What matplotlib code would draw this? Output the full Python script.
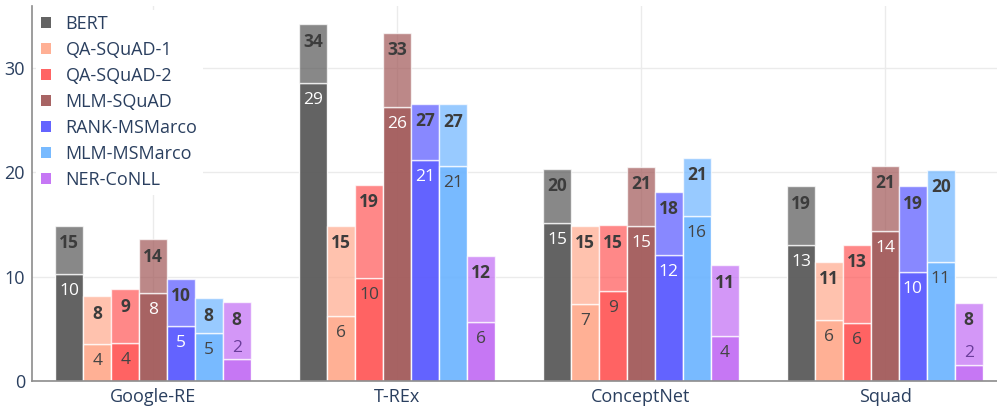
import matplotlib
matplotlib.use("Agg")
import matplotlib.pyplot as plt
from matplotlib.patches import Patch
import numpy as np

plt.rcParams['font.family'] = ['Open Sans', 'DejaVu Sans']

categories = ['Google-RE', 'T-REx', 'ConceptNet', 'Squad']
series = ['BERT', 'QA-SQuAD-1', 'QA-SQuAD-2', 'MLM-SQuAD', 'RANK-MSMarco', 'MLM-MSMarco', 'NER-CoNLL']

bert_total = [14.86, 34.19, 20.33, 18.67]
bert_lower = [10.23, 28.6, 15.12, 13.07]
qa1_total = [8.12, 14.89, 14.86, 11.41]
qa1_lower = [3.52, 6.26, 7.35, 5.82]
qa2_total = [8.79, 18.79, 14.93, 13.07]
qa2_lower = [3.61, 9.9, 8.6, 5.53]
mlm_squad_total = [13.58, 33.4, 20.52, 20.65]
mlm_squad_lower = [8.41, 26.24, 14.83, 14.41]
rank_total = [9.78, 26.56, 18.12, 18.67]
rank_lower = [5.3, 21.19, 12.05, 10.45]
mlm_ms_total = [7.93, 26.52, 21.38, 20.26]
mlm_ms_lower = [4.63, 20.65, 15.79, 11.44]
ner_total = [7.55, 12.02, 11.09, 7.52]
ner_lower = [2.08, 5.62, 4.35, 1.56]

totals = [bert_total, qa1_total, qa2_total, mlm_squad_total, rank_total, mlm_ms_total, ner_total]
lowers = [bert_lower, qa1_lower, qa2_lower, mlm_squad_lower, rank_lower, mlm_ms_lower, ner_lower]

# base colours (rgb 0-255)
base = [(86, 86, 86), (255, 169, 140), (255, 86, 86), (160, 86, 86),
        (86, 86, 255), (108, 180, 255), (193, 107, 244)]
legend_cols = [(100, 100, 100), (255, 176, 149), (255, 100, 100), (168, 100, 100),
               (100, 100, 255), (120, 186, 255), (198, 119, 245)]
lower_text = ['white', '#444444', '#444444', 'white', 'white', '#444444', '#444444']

def c(rgb):
    return tuple(v / 255 for v in rgb)

fig = plt.figure(figsize=(9.97, 4.11), dpi=100)
ax = fig.add_axes([32 / 997, 30 / 411, 965 / 997, 375 / 411])

n = len(series)
w = 0.8 / n
x = np.arange(len(categories))
tick_col = '#2a3f5f'

for j in range(n):
    xs = x + (j - (n - 1) / 2) * w
    tot = np.array(totals[j])
    low = np.array(lowers[j])
    ax.bar(xs, low, width=w, color=c(base[j]), alpha=0.92, zorder=2,
           edgecolor=(1, 1, 1, 0.55), linewidth=1)
    ax.bar(xs, tot - low, bottom=low, width=w, color=c(base[j]), alpha=0.7, zorder=2,
           edgecolor=(1, 1, 1, 0.55), linewidth=1)
    for xi, t, l in zip(xs, tot, low):
        ax.annotate(f'{t:.0f}', (xi, t), xytext=(0, -6), textcoords='offset points',
                    ha='center', va='top', fontsize=12.5, fontweight='bold',
                    color='#3c3c3c', zorder=4)
        if l >= 2.5:
            ax.annotate(f'{l:.0f}', (xi, l), xytext=(0, -6.5), textcoords='offset points',
                        ha='center', va='top', fontsize=12.5, color=lower_text[j], zorder=4)
        else:
            ax.annotate(f'{l:.0f}', (xi, l), xytext=(0, 2.5), textcoords='offset points',
                        ha='center', va='bottom', fontsize=12.5, color='#6a3d9a', zorder=4)

ax.set_xlim(-0.496, 3.459)
ax.set_ylim(0, 35.95)
ax.set_xticks(x)
ax.set_xticklabels(categories)
ax.set_yticks([0, 10, 20, 30])
ax.tick_params(axis='both', length=0, labelsize=13, colors=tick_col)
ax.tick_params(axis='y', pad=5)
ax.tick_params(axis='x', pad=5)
ax.grid(True, color='#ebebeb', linewidth=1, zorder=0)
ax.set_axisbelow(True)
for s in ['top', 'right']:
    ax.spines[s].set_visible(False)
for s in ['left', 'bottom']:
    ax.spines[s].set_color('#8c8c8c')
    ax.spines[s].set_linewidth(1.2)

handles = [Patch(facecolor=c(legend_cols[j]), edgecolor='none') for j in range(n)]
leg = ax.legend(handles, series, loc='upper left', bbox_to_anchor=(0.0, 1.0),
                fontsize=13, frameon=True, fancybox=False, framealpha=1,
                edgecolor='none', facecolor='white', handlelength=0.55, handleheight=0.55,
                handletextpad=0.8, labelspacing=0.445, borderpad=0.3, borderaxespad=0.2)
for t in leg.get_texts():
    t.set_color(tick_col)
leg.set_zorder(5)

fig.savefig('out.png', dpi=100)
